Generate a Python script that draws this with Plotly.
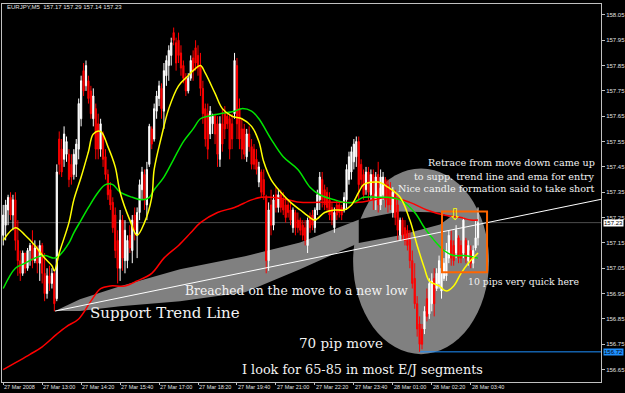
import plotly.graph_objects as go

# ---------------- data (EURJPY M5) ----------------
time_labels = ["27 Mar 2008", "27 Mar 13:00", "27 Mar 14:20", "27 Mar 15:40", "27 Mar 17:00",
               "27 Mar 18:20", "27 Mar 19:40", "27 Mar 21:00", "27 Mar 22:20", "27 Mar 23:40",
               "28 Mar 01:00", "28 Mar 02:20", "28 Mar 03:40"]
label_bars = [0, 16, 32, 48, 64, 80, 96, 112, 128, 144, 160, 176, 192]

opens = [157.18, 157.22, 157.28, 157.33, 157.26, 157.32, 157.16, 157.08, 157.03, 157.11,
         157.05, 157.12, 157.14, 157.08, 157.13, 157.07, 157.14, 157.03, 156.95, 157.02,
         156.99, 157.03, 156.93, 157.56, 157.52, 157.48, 157.50, 157.50, 157.46, 157.42,
         157.46, 157.52, 157.64, 157.83, 157.77, 157.79, 157.75, 157.64, 157.68, 157.62,
         157.52, 157.58, 157.49, 157.42, 157.36, 157.31, 157.26, 157.16, 157.05, 157.24,
         157.08, 157.08, 157.18, 157.12, 157.26, 157.18, 157.27, 157.36, 157.42, 157.30,
         157.46, 157.60, 157.56, 157.67, 157.72, 157.76, 157.67, 157.81, 157.85, 157.89,
         157.98, 157.94, 157.95, 157.90, 157.85, 157.80, 157.75, 157.80, 157.88, 157.92,
         157.89, 157.85, 157.76, 157.68, 157.66, 157.58, 157.62, 157.65, 157.62, 157.48,
         157.62, 157.67, 157.65, 157.64, 157.62, 157.66, 157.85, 157.68, 157.60, 157.60,
         157.49, 157.58, 157.53, 157.52, 157.48, 157.39, 157.43, 157.40, 157.33, 157.08,
         157.30, 157.22, 157.34, 157.29, 157.34, 157.32, 157.30, 157.30, 157.28, 157.21,
         157.27, 157.24, 157.24, 157.22, 157.21, 157.14, 157.25, 157.26, 157.21, 157.28,
         157.32, 157.40, 157.36, 157.35, 157.32, 157.29, 157.21, 157.30, 157.30, 157.29,
         157.28, 157.32, 157.40, 157.43, 157.47, 157.49, 157.55, 157.46, 157.42, 157.36,
         157.43, 157.34, 157.42, 157.32, 157.42, 157.30, 157.34, 157.40, 157.38, 157.36,
         157.27, 157.34, 157.30, 157.18, 157.24, 157.21, 157.20, 157.16, 157.08, 157.01,
         156.91, 156.83, 156.81, 156.81, 156.93, 156.87, 156.91, 157.01, 156.97, 156.99,
         156.96, 157.01, 157.02, 157.09, 157.16, 157.14, 157.11, 157.17, 157.14, 157.11,
         157.16, 157.08, 157.12, 157.07, 157.13, 157.17]
highs = [157.30, 157.32, 157.34, 157.35, 157.34, 157.35, 157.24, 157.12, 157.12, 157.11,
         157.13, 157.15, 157.20, 157.16, 157.14, 157.16, 157.15, 157.11, 157.05, 157.06,
         157.05, 157.04, 157.46, 157.59, 157.56, 157.61, 157.57, 157.52, 157.50, 157.52,
         157.56, 157.72, 157.81, 157.86, 157.87, 157.81, 157.77, 157.76, 157.70, 157.66,
         157.64, 157.59, 157.52, 157.44, 157.39, 157.33, 157.29, 157.20, 157.28, 157.26,
         157.24, 157.18, 157.22, 157.26, 157.29, 157.29, 157.40, 157.45, 157.44, 157.47,
         157.62, 157.61, 157.70, 157.75, 157.79, 157.78, 157.86, 157.89, 157.93, 157.96,
         158.00, 157.96, 157.98, 157.93, 157.87, 157.82, 157.82, 157.89, 157.91, 157.95,
         157.93, 157.90, 157.79, 157.70, 157.70, 157.69, 157.66, 157.66, 157.65, 157.65,
         157.68, 157.69, 157.66, 157.66, 157.66, 157.90, 157.88, 157.72, 157.64, 157.62,
         157.60, 157.61, 157.56, 157.54, 157.52, 157.47, 157.44, 157.44, 157.34, 157.31,
         157.36, 157.34, 157.37, 157.36, 157.36, 157.35, 157.33, 157.32, 157.31, 157.29,
         157.28, 157.27, 157.25, 157.24, 157.24, 157.25, 157.27, 157.28, 157.29, 157.36,
         157.43, 157.43, 157.38, 157.37, 157.35, 157.31, 157.29, 157.32, 157.31, 157.30,
         157.35, 157.46, 157.51, 157.53, 157.56, 157.57, 157.57, 157.48, 157.44, 157.45,
         157.45, 157.44, 157.44, 157.43, 157.47, 157.44, 157.43, 157.41, 157.40, 157.39,
         157.37, 157.36, 157.33, 157.25, 157.25, 157.24, 157.22, 157.20, 157.12, 157.07,
         156.94, 156.86, 156.83, 156.90, 156.97, 157.01, 157.03, 157.05, 157.05, 157.10,
         157.08, 157.09, 157.15, 157.20, 157.20, 157.16, 157.22, 157.18, 157.16, 157.25,
         157.17, 157.16, 157.14, 157.14, 157.24, 157.29]
lows = [157.14, 157.16, 157.22, 157.24, 157.20, 157.12, 157.02, 157.00, 157.02, 157.03,
        157.04, 157.06, 157.05, 157.07, 157.03, 157.00, 156.99, 156.92, 156.93, 156.96,
        156.97, 156.88, 156.92, 157.42, 157.41, 157.45, 157.47, 157.37, 157.38, 157.40,
        157.41, 157.48, 157.61, 157.73, 157.75, 157.70, 157.64, 157.61, 157.48, 157.48,
        157.49, 157.45, 157.40, 157.32, 157.28, 157.19, 157.09, 156.99, 157.00, 157.04,
        157.03, 157.05, 157.11, 157.07, 157.16, 157.09, 157.24, 157.32, 157.28, 157.24,
        157.45, 157.52, 157.55, 157.64, 157.69, 157.64, 157.60, 157.77, 157.79, 157.85,
        157.93, 157.83, 157.86, 157.81, 157.78, 157.73, 157.74, 157.79, 157.79, 157.83,
        157.81, 157.73, 157.62, 157.53, 157.48, 157.56, 157.58, 157.54, 157.45, 157.45,
        157.51, 157.56, 157.60, 157.48, 157.52, 157.64, 157.56, 157.52, 157.48, 157.48,
        157.47, 157.51, 157.44, 157.44, 157.42, 157.37, 157.33, 157.32, 157.03, 157.04,
        157.18, 157.20, 157.27, 157.27, 157.27, 157.26, 157.23, 157.25, 157.22, 157.19,
        157.18, 157.19, 157.18, 157.16, 157.14, 157.11, 157.19, 157.20, 157.19, 157.26,
        157.28, 157.29, 157.28, 157.27, 157.24, 157.22, 157.19, 157.24, 157.25, 157.24,
        157.27, 157.28, 157.38, 157.40, 157.44, 157.45, 157.32, 157.37, 157.32, 157.34,
        157.32, 157.32, 157.28, 157.28, 157.27, 157.28, 157.32, 157.29, 157.27, 157.28,
        157.25, 157.22, 157.16, 157.16, 157.16, 157.14, 157.12, 157.05, 156.97, 156.89,
        156.78, 156.72, 156.73, 156.79, 156.84, 156.85, 156.88, 156.86, 156.96, 156.97,
        156.93, 157.00, 157.00, 157.07, 157.06, 157.06, 157.09, 157.07, 157.07, 157.09,
        157.07, 157.06, 157.05, 157.05, 157.12, 157.14]
closes = [157.26, 157.30, 157.33, 157.26, 157.32, 157.16, 157.08, 157.03, 157.11, 157.05,
          157.12, 157.14, 157.08, 157.13, 157.07, 157.14, 157.03, 156.95, 157.02, 156.99,
          157.03, 156.91, 157.43, 157.46, 157.43, 157.58, 157.55, 157.40, 157.41, 157.50,
          157.54, 157.70, 157.79, 157.75, 157.85, 157.72, 157.66, 157.73, 157.52, 157.52,
          157.62, 157.48, 157.42, 157.34, 157.30, 157.21, 157.12, 157.05, 157.24, 157.09,
          157.20, 157.16, 157.13, 157.24, 157.20, 157.27, 157.38, 157.43, 157.32, 157.44,
          157.61, 157.54, 157.68, 157.73, 157.77, 157.68, 157.83, 157.87, 157.91, 157.94,
          157.95, 157.86, 157.89, 157.84, 157.80, 157.75, 157.80, 157.87, 157.83, 157.86,
          157.84, 157.76, 157.66, 157.56, 157.52, 157.67, 157.65, 157.58, 157.50, 157.62,
          157.54, 157.60, 157.62, 157.52, 157.56, 157.87, 157.62, 157.56, 157.52, 157.50,
          157.58, 157.53, 157.46, 157.46, 157.44, 157.45, 157.35, 157.34, 157.08, 157.28,
          157.22, 157.32, 157.29, 157.34, 157.29, 157.28, 157.25, 157.27, 157.24, 157.28,
          157.21, 157.21, 157.20, 157.18, 157.16, 157.24, 157.21, 157.22, 157.28, 157.34,
          157.41, 157.32, 157.30, 157.29, 157.26, 157.24, 157.27, 157.26, 157.27, 157.26,
          157.33, 157.44, 157.49, 157.51, 157.54, 157.55, 157.38, 157.40, 157.34, 157.43,
          157.35, 157.42, 157.32, 157.41, 157.30, 157.41, 157.41, 157.32, 157.30, 157.30,
          157.35, 157.25, 157.20, 157.24, 157.18, 157.16, 157.14, 157.08, 156.99, 156.91,
          156.81, 156.75, 156.75, 156.88, 156.86, 156.99, 157.00, 156.91, 157.03, 157.08,
          157.05, 157.07, 157.12, 157.18, 157.09, 157.08, 157.20, 157.09, 157.09, 157.24,
          157.09, 157.14, 157.07, 157.12, 157.17, 157.23]

# moving averages (read at sample bars)
ema_fast_bar = [0, 5, 9, 13, 17, 20, 21, 23, 27, 29, 32, 35, 37, 40, 43, 46, 48, 52, 55, 58,
                61, 62, 65, 68, 72, 76, 78, 81, 83, 87, 90, 94, 98, 102, 105, 107, 110, 114, 118, 122,
                126, 128, 132, 136, 140, 143, 146, 148, 154, 158, 163, 167, 170, 173, 175, 179, 182, 185, 188, 191,
                195]
ema_fast_val = [157.16, 157.21, 157.18, 157.14, 157.09, 157.06, 157.04, 157.11, 157.23, 157.32,
                157.41, 157.51, 157.58, 157.59, 157.53, 157.45, 157.35, 157.24, 157.18, 157.23,
                157.33, 157.44, 157.57, 157.68, 157.77, 157.81, 157.83, 157.85, 157.82, 157.74,
                157.68, 157.65, 157.64, 157.61, 157.55, 157.47, 157.40, 157.35, 157.31, 157.28,
                157.25, 157.24, 157.27, 157.28, 157.28, 157.30, 157.35, 157.38, 157.39, 157.37,
                157.33, 157.24, 157.14, 157.05, 157.00, 156.98, 156.96, 156.98, 157.03, 157.07,
                157.11]
ema_mid_bar = [0, 5, 9, 13, 17, 21, 23, 27, 29, 32, 35, 39, 42, 45, 48, 53, 57, 60, 62, 66,
               70, 74, 78, 81, 84, 89, 95, 98, 102, 105, 110, 115, 121, 126, 130, 136, 140, 144, 148, 154,
               158, 163, 169, 173, 177, 181, 185, 189, 195]
ema_mid_val = [156.97, 157.05, 157.07, 157.09, 157.10, 157.09, 157.10, 157.15, 157.19, 157.24,
               157.29, 157.35, 157.38, 157.38, 157.35, 157.33, 157.32, 157.33, 157.36, 157.41,
               157.48, 157.55, 157.60, 157.64, 157.65, 157.66, 157.67, 157.68, 157.67, 157.64,
               157.56, 157.49, 157.44, 157.37, 157.34, 157.32, 157.31, 157.31, 157.33, 157.33,
               157.33, 157.32, 157.27, 157.21, 157.16, 157.12, 157.10, 157.10, 157.09]
ema_slow_bar = [0, 11, 16, 22, 26, 31, 36, 40, 44, 50, 55, 61, 66, 72, 77, 81, 88, 95, 102, 106,
                110, 117, 122, 130, 139, 146, 152, 159, 167, 174, 181, 188, 192, 195]
ema_slow_val = [156.65, 156.71, 156.74, 156.79, 156.82, 156.85, 156.92, 156.97, 156.98, 156.98,
                157.00, 157.03, 157.09, 157.14, 157.19, 157.23, 157.27, 157.29, 157.32, 157.33,
                157.33, 157.32, 157.31, 157.31, 157.31, 157.31, 157.32, 157.33, 157.31, 157.28,
                157.26, 157.25, 157.24, 157.24]

price_ticks = [158.05, 157.95, 157.85, 157.75, 157.65, 157.55, 157.45, 157.35,
               157.25, 157.15, 157.05, 156.95, 156.85, 156.75, 156.65]
bid_price = 157.23
low_price = 156.72
symbol_title = "EURJPY,M5  157.17 157.29 157.14 157.23"

# ---------------- figure ----------------
bars = list(range(len(closes)))
X0, X1 = -0.5, 245.5
Y0, Y1 = 156.601, 158.093

fig = go.Figure()
fig.add_trace(go.Candlestick(
    x=bars, open=opens, high=highs, low=lows, close=closes,
    increasing=dict(line=dict(color="#ffffff", width=1), fillcolor="#ffffff"),
    decreasing=dict(line=dict(color="#ff0000", width=1), fillcolor="#ff0000"),
    whiskerwidth=0, hoverinfo="skip"))
fig.add_trace(go.Scatter(x=ema_slow_bar, y=ema_slow_val, mode="lines",
                         line=dict(color="#ff0000", width=1.5, shape="spline")))
fig.add_trace(go.Scatter(x=ema_mid_bar, y=ema_mid_val, mode="lines",
                         line=dict(color="#00e600", width=1.5, shape="spline")))
fig.add_trace(go.Scatter(x=ema_fast_bar, y=ema_fast_val, mode="lines",
                         line=dict(color="#ffff00", width=1.5, shape="spline")))

GREY = "#808080"
wedge_top = [(21.3, 156.881), (31.5, 156.928), (48.0, 156.979), (72.6, 157.046), (99.3, 157.097),
             (121.9, 157.152), (146.5, 157.243), (163.0, 157.274), (179.4, 157.270), (183.5, 157.251)]
wedge_bot = [(179.4, 157.223), (163.0, 157.180), (146.5, 157.152), (121.9, 157.046), (99.3, 156.955),
             (72.6, 156.920), (48.0, 156.900), (31.5, 156.881)]


def path(pts):
    return "M " + " L ".join(f"{a},{b}" for a, b in pts) + " Z"


shapes = []
shapes.append(dict(type="path", path=path(wedge_top + wedge_bot), xref="x", yref="y",
                   fillcolor=GREY, line=dict(width=0), layer="below"))
shapes.append(dict(type="circle", xref="x", yref="y", x0=143.7, x1=199.5, y0=156.711, y1=157.444,
                   fillcolor=GREY, line=dict(width=0), layer="below"))
# part of the wedge inside the ellipse shows black
inner = [(146.0, 157.243), (163.0, 157.274), (179.4, 157.270), (183.5, 157.251),
         (179.4, 157.223), (163.0, 157.180), (146.0, 157.150)]
shapes.append(dict(type="path", path=path(inner), xref="x", yref="y",
                   fillcolor="#000000", line=dict(width=0), layer="below"))
# bid line and low ray
shapes.append(dict(type="line", xref="paper", yref="y", x0=0, x1=1, y0=bid_price, y1=bid_price,
                   line=dict(color="#4d4d4d", width=1), layer="below"))
shapes.append(dict(type="line", xref="x", yref="y", x0=171, x1=X1, y0=low_price, y1=low_price,
                   line=dict(color="#1e90ff", width=1), layer="below"))
# support trend line
shapes.append(dict(type="line", xref="x", yref="y", x0=21.3, y0=156.881, x1=X1, y1=157.322,
                   line=dict(color="#ffffff", width=1), layer="above"))
# orange box
shapes.append(dict(type="rect", xref="x", yref="y", x0=180.2, x1=198.7, y0=157.034, y1=157.274,
                   line=dict(color="#ff6600", width=2), fillcolor="rgba(0,0,0,0)", layer="above"))

SERIF = "DejaVu Serif"
SANS = "Liberation Sans"
TXT = "#f2f2f2"
ann = []


def txt(text, x, y, size, anchor="left"):
    ann.append(dict(text=text, x=x, y=y, xref="x", yref="y", showarrow=False,
                    xanchor=anchor, yanchor="middle",
                    font=dict(family=SERIF, size=size, color=TXT)))


txt("Support Trend Line", 34.8, 156.873, 15)
txt("Breached on the move to a new low", 73.8, 156.959, 12.3)
txt("70 pip move", 120.7, 156.755, 13.5)
txt("I look for 65-85 in most E/J segments", 97.2, 156.652, 12.8)
txt("Retrace from move down came up", 243.9, 157.467, 9.6, "right")
txt("to supp. trend line and ema for entry", 243.9, 157.412, 9.6, "right")
txt("Nice candle formation said to take short", 243.9, 157.365, 9.6, "right")
txt("10 pips very quick here", 190.1, 156.999, 9.3)
ann.append(dict(text="⇩", x=185.5, y=157.263, xref="x", yref="y", showarrow=False,
                font=dict(family="DejaVu Sans", size=16, color="#ffff00")))
ann.append(dict(text=symbol_title, x=0.005, y=0.992, xref="paper", yref="paper",
                showarrow=False, xanchor="left", yanchor="middle",
                font=dict(family=SANS, size=6, color="#e0e0e0")))
ann.append(dict(text=f"{bid_price:.2f}", x=1.004, y=bid_price, xref="paper", yref="y",
                showarrow=False, xanchor="left", yanchor="middle", bgcolor="#ffffff",
                borderpad=0, font=dict(family=SANS, size=6, color="#000000")))
ann.append(dict(text=f"{low_price:.2f}", x=1.004, y=low_price, xref="paper", yref="y",
                showarrow=False, xanchor="left", yanchor="middle", bgcolor="#1e90ff",
                borderpad=0, font=dict(family=SANS, size=6, color="#000000")))
# time labels, left-aligned at their tick as in the terminal
for b, lab in zip(label_bars, time_labels):
    ann.append(dict(text=lab, x=b, y=0, xref="x", yref="paper", showarrow=False,
                    xanchor="left", yanchor="top", yshift=-1, borderpad=0,
                    font=dict(family=SANS, size=5.5, color="#e0e0e0")))

fig.update_layout(
    width=625, height=393, margin=dict(l=2, r=24, t=4, b=11),
    paper_bgcolor="#000000", plot_bgcolor="#000000", showlegend=False,
    shapes=shapes, annotations=ann,
    xaxis=dict(range=[X0, X1], rangeslider=dict(visible=False), showgrid=False, zeroline=False,
               tickvals=label_bars, ticks="outside", ticklen=2, tickcolor="#c0c0c0",
               showticklabels=False,
               showline=True, linecolor="#c0c0c0", linewidth=1, mirror=True, automargin=False),
    yaxis=dict(range=[Y0, Y1], side="right", showgrid=False, zeroline=False,
               tickvals=price_ticks, ticktext=[f"{p:.2f}" for p in price_ticks],
               ticks="outside", ticklen=3, tickcolor="#c0c0c0",
               tickfont=dict(family=SANS, size=6, color="#e0e0e0"),
               showline=True, linecolor="#c0c0c0", linewidth=1, mirror=True, automargin=False),
)

fig.write_html("out.html")
